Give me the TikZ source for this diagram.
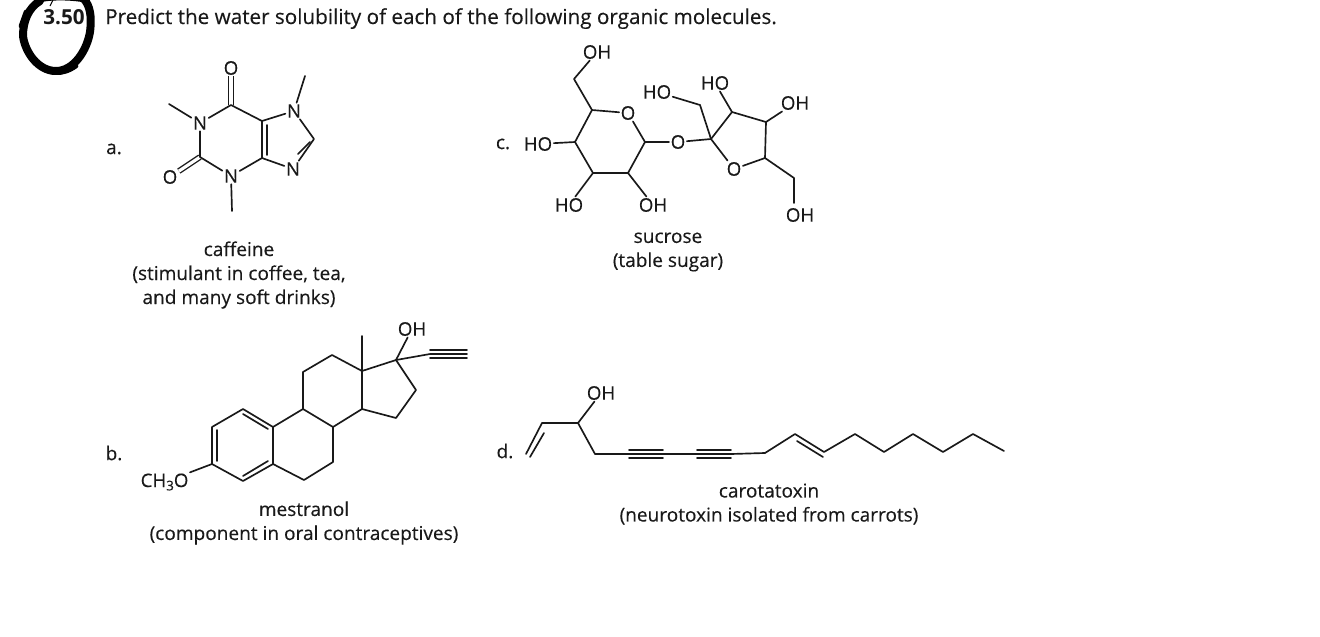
\documentclass[tikz,border=0pt]{standalone}
\usepackage{fontspec}
\setmainfont{Open Sans}
\newfontfamily\basefont[FakeBold=0.25]{Open Sans}
\newcommand{\subthree}{\raisebox{-2.5pt}{\fontsize{10}{10}\selectfont 3}}
\tikzset{
  x=0.75pt,y=-0.75pt,
  bond/.style={line width=1.25pt,line join=round,line cap=round,black!90},
  dbl/.style={bond,double,double distance=2.4pt,line width=1pt,line cap=butt},
  atom/.style={font=\basefont\fontsize{14}{15}\selectfont,inner sep=1pt,text=black!90},
  txt/.style={font=\basefont\fontsize{14.3}{18}\selectfont,inner sep=0pt,text=black!90,align=center},
  ink/.style={line width=6pt,line cap=round,line join=round,black}
}
\begin{document}
\begin{tikzpicture}
\useasboundingbox (0,0) rectangle (1320,636);
\clip (0,0) rectangle (1320,636);
\fill[white] (0,0) rectangle (1320,636);
% hand-drawn circle
\coordinate (m1) at (53,0); \coordinate (m2) at (50,6);
\draw[line width=0.7pt] (m1) -- (m2);
\draw[ink] (40,1) .. controls (28,8) and (23,22) .. (23,36) .. controls (25,52) and (38,71) .. (56,71)
  .. controls (74,71) and (87,50) .. (90,32) .. controls (92,16) and (90,6) .. (84,-1);
\draw[ink,line width=3.5pt] (38,65) .. controls (48,74) and (62,76) .. (76,66);
\draw[ink,line width=3.5pt] (26,12) -- (21,26);
\draw[ink,line width=4pt] (38,0) .. controls (50,-3) and (70,-3) .. (86,0);
% title
\node[txt,anchor=base west,font=\basefont\fontsize{15.5}{16}\selectfont] (title) at (105,24) {Predict the water solubility of each of the following organic molecules.};
\node[txt,anchor=base,font=\bfseries\fontsize{15.5}{16}\selectfont] (num) at (64,24) {3.50};

% a. caffeine
\node[txt] (la) at (114,149) {a.};
\node[atom] (aO1) at (231,68) {O};
\node[atom] (aN1) at (200,123) {N};
\node[atom] (aO2) at (170,177) {O};
\node[atom] (aN3) at (231,176) {N};
\node[atom] (aN7) at (294,111) {N};
\node[atom] (aN9) at (293,169) {N};
\coordinate (aC6) at (231,105);
\coordinate (aC2) at (200,157);
\coordinate (aC4) at (262,158);
\coordinate (aC5) at (262,121);
\coordinate (aC8) at (314,139);
\coordinate (aMe1) at (169,104);
\coordinate (aMe3) at (232,211);
\coordinate (aMe7) at (305,76);
\coordinate (aI1) at (267,125); \coordinate (aI2) at (267,155);
\coordinate (aI3) at (298,154); \coordinate (aI4) at (310,142);
\draw[dbl] (aC6) -- (aO1);
\draw[dbl] (aC2) -- (aO2);
\draw[bond] (aMe1) -- (aN1) -- (aC2) -- (aN3) -- (aC4) -- (aC5) -- (aC6) -- (aN1);
\draw[bond] (aN3) -- (aMe3);
\draw[bond] (aC5) -- (aN7) -- (aC8) -- (aN9) -- (aC4);
\draw[bond] (aN7) -- (aMe7);
\draw[bond] (aI1) -- (aI2);
\draw[bond] (aI3) -- (aI4);
\node[txt] (capA) at (239,275) {caffeine\\(stimulant in coffee, tea,\\and many soft drinks)};

% c. sucrose
\node[txt] (lc) at (503,144) {c.};
\node[atom] (cOH6) at (597,52) {OH};
\node[atom] (cO5) at (628,113) {O};
\node[atom] (cOl) at (678,142) {O};
\node[atom] (cHO4) at (538,144) {HO};
\node[atom] (cHO3) at (569,205) {HO};
\node[atom] (cOH2) at (653,205) {OH};
\node[atom] (cHOa) at (657,92) {HO};
\node[atom] (cHOb) at (715,83) {HO};
\node[atom] (cOHc) at (795,103) {OH};
\node[atom] (cOf) at (734,169) {O};
\node[atom] (cOHd) at (800,215) {OH};
\coordinate (c6) at (574,79);
\coordinate (c5) at (592,110);
\coordinate (c1) at (645,142);
\coordinate (c2) at (628,173);
\coordinate (c3) at (593,173);
\coordinate (c4) at (575,142);
\coordinate (f2) at (711,139);
\coordinate (f1) at (700,105);
\coordinate (f3) at (732,112);
\coordinate (f4) at (766,122);
\coordinate (f5) at (765,158);
\coordinate (f6) at (794,178);
\coordinate (f7) at (794,203);
\draw[bond] (cOH6) -- (c6) -- (c5) -- (cO5) -- (c1) -- (c2) -- (c3) -- (c4) -- (c5);
\draw[bond] (c4) -- (cHO4);
\draw[bond] (c3) -- (cHO3);
\draw[bond] (c2) -- (cOH2);
\draw[bond] (c1) -- (cOl) -- (f2) -- (f3) -- (f4) -- (f5) -- (cOf) -- (f2);
\draw[bond] (f2) -- (f1) -- (cHOa);
\draw[bond] (f3) -- (cHOb);
\draw[bond] (f4) -- (cOHc);
\draw[bond] (f5) -- (f6) -- (f7);
\node[txt] (capC) at (668,252) {sucrose\\(table sugar)};

% b. mestranol
\node[txt] (lb) at (114,453) {b.};
\coordinate (r1) at (212,427);
\coordinate (r2) at (243,409);
\coordinate (r3) at (273,427);
\coordinate (r4) at (273,464);
\coordinate (r5) at (243,481);
\coordinate (r6) at (212,464);
\coordinate (r7) at (304,480);
\coordinate (r8) at (333,462);
\coordinate (r9) at (333,427);
\coordinate (r10) at (303,409);
\coordinate (r11) at (303,372);
\coordinate (r12) at (332,355);
\coordinate (r13) at (362,371);
\coordinate (r14) at (362,409);
\coordinate (r15) at (396,360);
\coordinate (r16) at (416,390);
\coordinate (r17) at (396,418);
\coordinate (rMe) at (362,336);
\coordinate (y0) at (430,354);
\coordinate (y1) at (467,354);
\coordinate (ya) at (430,350); \coordinate (yb) at (467,350);
\coordinate (yc) at (430,358); \coordinate (yd) at (467,358);
\node[atom] (bOH) at (412,329) {OH};
\node[atom,anchor=east] (bOMe) at (190,482) {CH\subthree O};
\coordinate (i1) at (243,414); \coordinate (i2) at (268,429);
\coordinate (i3) at (243,476); \coordinate (i4) at (268,461);
\coordinate (i5) at (217,430); \coordinate (i6) at (217,461);
\draw[bond] (r1) -- (r2) -- (r3) -- (r4) -- (r5) -- (r6) -- (r1);
\draw[bond] (r4) -- (r7) -- (r8) -- (r9) -- (r10) -- (r3);
\draw[bond] (r10) -- (r11) -- (r12) -- (r13) -- (r14) -- (r9);
\draw[bond] (r13) -- (r15) -- (r16) -- (r17) -- (r14);
\draw[bond] (r13) -- (rMe);
\draw[bond] (r15) -- (bOH);
\draw[bond] (r15) -- (y0) -- (y1);
\draw[bond] (ya) -- (yb);
\draw[bond] (yc) -- (yd);
\draw[bond] (r6) -- (bOMe);
\draw[bond] (i1) -- (i2);
\draw[bond] (i3) -- (i4);
\draw[bond] (i5) -- (i6);
\node[txt] (capB) at (304,523) {mestranol\\(component in oral contraceptives)};

% d. carotatoxin
\node[txt] (ld) at (505,451) {d.};
\node[atom] (dOH) at (601,393) {OH};
\coordinate (d1) at (526,454);
\coordinate (d2) at (542,423);
\coordinate (d3) at (578,423);
\coordinate (d4) at (595,454);
\coordinate (d5) at (629,454);
\coordinate (d6) at (663,454);
\coordinate (d7) at (697,454);
\coordinate (d8) at (731,454);
\coordinate (d9) at (765,453);
\coordinate (d10) at (795,434);
\coordinate (d11) at (824,452);
\coordinate (d12) at (855,434);
\coordinate (d13) at (884,452);
\coordinate (d14) at (913,434);
\coordinate (d15) at (943,452);
\coordinate (d16) at (973,434);
\coordinate (d17) at (1004,451);
\coordinate (e1) at (530,457); \coordinate (e2) at (544,433);
\coordinate (e3) at (797,441); \coordinate (e4) at (823,457);
\coordinate (t1) at (629,450); \coordinate (t2) at (663,450);
\coordinate (t3) at (629,458); \coordinate (t4) at (663,458);
\coordinate (t5) at (697,450); \coordinate (t6) at (731,450);
\coordinate (t7) at (697,458); \coordinate (t8) at (731,458);
\draw[bond] (d1) -- (d2) -- (d3) -- (d4) -- (d5) -- (d6) -- (d7) -- (d8) -- (d9) -- (d10) -- (d11) -- (d12) -- (d13) -- (d14) -- (d15) -- (d16) -- (d17);
\draw[bond] (d3) -- (dOH);
\draw[bond] (e1) -- (e2);
\draw[bond] (e3) -- (e4);
\draw[bond] (t1) -- (t2);
\draw[bond] (t3) -- (t4);
\draw[bond] (t5) -- (t6);
\draw[bond] (t7) -- (t8);
\node[txt] (capD) at (769,504) {carotatoxin\\(neurotoxin isolated from carrots)};
\end{tikzpicture}
\end{document}
